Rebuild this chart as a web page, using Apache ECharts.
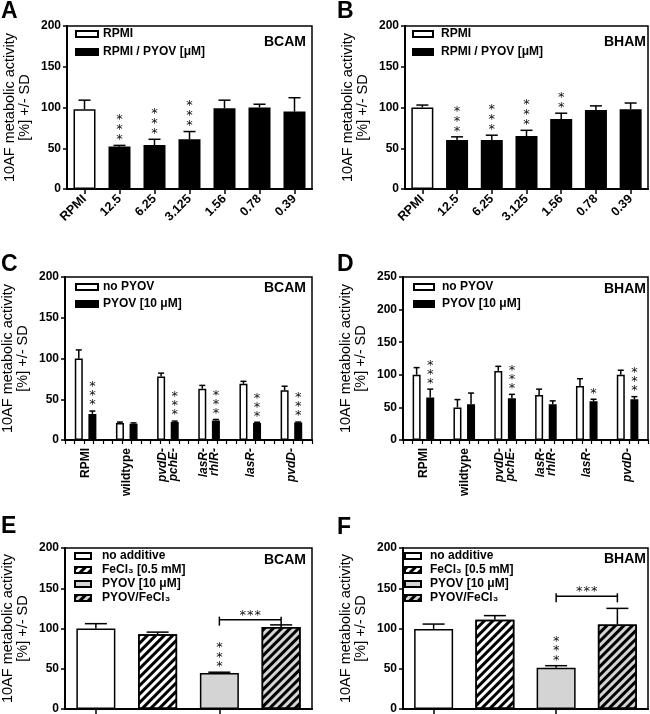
<!DOCTYPE html>
<html><head><meta charset="utf-8">
<script src="https://cdn.jsdelivr.net/npm/echarts@6/dist/echarts.min.js"></script>
<style>html,body{margin:0;padding:0;background:#fff}#c{width:650px;height:714px}</style>
</head><body><div id="c"></div>
<script>
// ---------- DATA ----------
const abCats = ['RPMI','12.5','6.25','3.125','1.56','0.78','0.39'];
const aMean = [98, 52, 54, 61, 99, 100, 95];
const aSD   = [11, 1.5, 7, 9.5, 10, 4, 17];
const aStars = [0, 3, 3, 3, 0, 0, 0];
const bMean = [100, 60, 60, 65, 86, 97, 98];
const bSD   = [3, 4, 6, 7, 7, 5, 7.5];
const bStars = [0, 3, 3, 3, 2, 0, 0];

const cdCats = ['RPMI','wildtype','pvdD-\npchE-','lasR-\nrhlR-','lasR-','pvdD-'];
const cNoMean = [100, 21, 78, 63, 69, 61];
const cNoSD   = [10.5, 1, 4, 4, 3, 5];
const cPyMean = [32, 20, 22, 24, 21, 21.5];
const cPySD   = [3.5, 1, 1.2, 1.2, 0.8, 0.5];
const cStars  = [3, 0, 3, 3, 3, 3];
const dNoMean = [100, 50, 106, 69, 83, 100];
const dNoSD   = [11, 12, 7, 9, 11, 7];
const dPyMean = [65, 55, 64, 55, 59.5, 62.5];
const dPySD   = [13, 17, 6, 5, 3, 4];
const dStars  = [3, 0, 3, 0, 1, 3];

const efCats = ['no additive','FeCl₃ [0.5 mM]','PYOV [10 μM]','PYOV/FeCl₃'];
const eMean = [100, 93, 44.7, 102];
const eSD   = [6, 2.5, 1, 2.5];
const eStars = [0, 0, 3, 0];
const eBracket = [2, 3, 111, 3];   // from cat, to cat, height, stars
const fMean = [99.5, 111, 51.3, 105];
const fSD   = [6, 5, 2.5, 20];
const fStars = [0, 0, 3, 0];
const fBracket = [2, 3, 140, 3];

const yMaxMain = 200, yMaxD = 250, yStep = 50;
const yTitle = '10AF metabolic activity\n[%] +/- SD';

// ---------- HELPERS ----------
const FF = 'Liberation Sans';
const grids = [
  {left:67,  top:26,  width:245, height:163},
  {left:405, top:26,  width:243, height:163},
  {left:65,  top:277, width:247, height:163},
  {left:403, top:277, width:245, height:163},
  {left:65,  top:548, width:247, height:161},
  {left:403, top:548, width:245, height:161}
].map(g => Object.assign({show:true, borderColor:'#000', borderWidth:1.5, containLabel:false, outerBoundsMode:'none'}, g));

function yAx(i, max){
  return {type:'value', gridIndex:i, min:0, max:max, interval:yStep,
    axisLine:{show:true, lineStyle:{color:'#000', width:2}},
    axisTick:{show:true, length:4, lineStyle:{color:'#000', width:1.5}},
    axisLabel:{color:'#000', fontSize:12, fontWeight:'bold', fontFamily:FF, margin:6},
    splitLine:{show:false},
    name:yTitle, nameLocation:'middle', nameGap:35, nameRotate:90,
    nameTextStyle:{color:'#000', fontSize:14.5, fontFamily:FF, lineHeight:15}};
}
const axLine = {show:true, onZero:false, lineStyle:{color:'#000', width:2}};
function xAB(i){
  return {type:'category', gridIndex:i, data:abCats, axisLine:axLine,
    axisTick:{show:true, alignWithLabel:true, length:5, lineStyle:{color:'#000', width:1.5}},
    axisLabel:{interval:0, rotate:45, margin:8, color:'#000', fontSize:12.5, fontWeight:'bold', fontFamily:FF}};
}
function xCD(i){
  return {type:'category', gridIndex:i, data:cdCats, axisLine:axLine,
    axisTick:{show:false},
    axisLabel:{interval:0, rotate:90, margin:8, color:'#000', fontSize:12, fontWeight:'bold', fontFamily:FF, lineHeight:11,
      formatter: v => (v === 'RPMI' || v === 'wildtype') ? v : v.split('\n').map(s => '{i|' + s + '}').join('\n'),
      rich:{i:{fontStyle:'italic', fontWeight:'bold', fontSize:12, color:'#000', fontFamily:FF, lineHeight:11}}}};
}
function xEF(i){
  return {type:'category', gridIndex:i, data:efCats, axisLine:axLine,
    axisTick:{show:true, alignWithLabel:true, length:5, lineStyle:{color:'#000', width:1.5}},
    axisLabel:{show:false}};
}
function xTicks(i){
  return {type:'value', gridIndex:i, min:0, max:26, interval:1, position:'bottom',
    axisLine:{show:false}, axisLabel:{show:false}, splitLine:{show:false},
    axisTick:{show:true, length:4, lineStyle:{color:'#000', width:1.2}}};
}

const whiteStyle = {color:'#fff', borderColor:'#000', borderWidth:1.5};
const blackStyle = {color:'#000', borderColor:'#000', borderWidth:1.5};
const greyStyle  = {color:'#d4d4d4', borderColor:'#000', borderWidth:1.5};
const hatchDecal = {symbol:'rect', symbolSize:1, color:'#000', dashArrayX:[1,0], dashArrayY:[2.2,2.6], rotation:-Math.PI/4};
const hatchStyle = {color:'#fff', borderColor:'#000', borderWidth:1.5, decal:hatchDecal};
const greyHatchStyle = {color:'#d4d4d4', borderColor:'#000', borderWidth:1.5, decal:hatchDecal};

const STAR = {fontSize:13, fontWeight:'normal', fontFamily:'DejaVu Sans', fill:'#111'};
const STAR_DY = 3;

function errSeries(xi, yi, means, sds, offset, cap){
  return {type:'custom', xAxisIndex:xi, yAxisIndex:yi, z:5, silent:true,
    data: means.map((m, i) => [i, m, m + sds[i]]),
    encode:{x:0, y:[1,2]},
    renderItem:(params, api) => {
      const p0 = api.coord([api.value(0), api.value(1)]);
      const p1 = api.coord([api.value(0), api.value(2)]);
      const x = p0[0] + offset;
      return {type:'group', children:[
        {type:'line', shape:{x1:x, y1:p0[1], x2:x, y2:p1[1]}, style:{stroke:'#000', lineWidth:1.5}},
        {type:'line', shape:{x1:x - cap/2, y1:p1[1], x2:x + cap/2, y2:p1[1]}, style:{stroke:'#000', lineWidth:1.5}}
      ]};
    }};
}
function starSeries(xi, yi, means, sds, stars, offset, gap, step){
  return {type:'custom', xAxisIndex:xi, yAxisIndex:yi, z:6, silent:true,
    data: means.map((m, i) => [i, m + sds[i], stars[i]]),
    encode:{x:0, y:1},
    renderItem:(params, api) => {
      const n = api.value(2);
      const p = api.coord([api.value(0), api.value(1)]);
      const ch = [];
      for (let k = 0; k < n; k++) {
        ch.push({type:'text', style:Object.assign({text:'*', x:p[0] + offset, y:p[1] - gap - k*step + STAR_DY,
          align:'center', verticalAlign:'middle'}, STAR)});
      }
      return {type:'group', children:ch};
    }};
}
function bracketSeries(xi, yi, br){
  return {type:'custom', xAxisIndex:xi, yAxisIndex:yi, z:6, silent:true,
    data:[br], encode:{x:[0,1], y:2},
    renderItem:(params, api) => {
      const a = api.coord([api.value(0), api.value(2)]);
      const b = api.coord([api.value(1), api.value(2)]);
      const n = api.value(3);
      const st = {stroke:'#000', lineWidth:1.5};
      const ch = [
        {type:'line', shape:{x1:a[0], y1:a[1], x2:b[0], y2:b[1]}, style:st},
        {type:'line', shape:{x1:a[0], y1:a[1]-3, x2:a[0], y2:a[1]+6}, style:st},
        {type:'line', shape:{x1:b[0], y1:b[1]-3, x2:b[0], y2:b[1]+6}, style:st}
      ];
      const mid = (a[0] + b[0]) / 2;
      for (let k = 0; k < n; k++) {
        ch.push({type:'text', style:Object.assign({text:'*', x:mid + (k - (n-1)/2) * 7.5, y:a[1] - 7.5 + STAR_DY,
          align:'center', verticalAlign:'middle'}, STAR)});
      }
      return {type:'group', children:ch};
    }};
}
function bar(name, xi, yi, data, style, width, gap){
  return {type:'bar', name:name, xAxisIndex:xi, yAxisIndex:yi, data:data, itemStyle:style,
    barWidth:width, barGap:gap, silent:true, z:2};
}
function only(arr, idx){ return arr.map((v, i) => idx.includes(i) ? v : '-'); }

// ---------- SERIES ----------
const series = [];
// A
series.push(bar('A|RPMI', 0, 0, only(aMean, [0]), whiteStyle, 22, '-100%'));
series.push(bar('A|RPMI / PYOV [μM]', 0, 0, only(aMean, [1,2,3,4,5,6]), blackStyle, 22, '-100%'));
series.push(errSeries(0, 0, aMean, aSD, 0, 12));
series.push(starSeries(0, 0, aMean, aSD, aStars, 0, 8.5, 10));
// B
series.push(bar('B|RPMI', 1, 1, only(bMean, [0]), whiteStyle, 22, '-100%'));
series.push(bar('B|RPMI / PYOV [μM]', 1, 1, only(bMean, [1,2,3,4,5,6]), blackStyle, 22, '-100%'));
series.push(errSeries(1, 1, bMean, bSD, 0, 12));
series.push(starSeries(1, 1, bMean, bSD, bStars, 0, 8.5, 10));
// C & D
const cw = 8, cgap = 0.7, coff = (cw + cw * cgap) / 2;
series.push(bar('C|no PYOV', 2, 2, cNoMean, whiteStyle, cw, '70%'));
series.push(bar('C|PYOV [10 μM]', 2, 2, cPyMean, blackStyle, cw, '70%'));
series.push(errSeries(2, 2, cNoMean, cNoSD, -coff, 6));
series.push(errSeries(2, 2, cPyMean, cPySD, coff, 6));
series.push(starSeries(2, 2, cPyMean, cPySD, cStars, coff, 9, 9));
series.push(bar('D|no PYOV', 3, 3, dNoMean, whiteStyle, cw, '70%'));
series.push(bar('D|PYOV [10 μM]', 3, 3, dPyMean, blackStyle, cw, '70%'));
series.push(errSeries(3, 3, dNoMean, dNoSD, -coff, 6));
series.push(errSeries(3, 3, dPyMean, dPySD, coff, 6));
series.push(starSeries(3, 3, dPyMean, dPySD, dStars, coff, 9, 9));
// E & F
const efStyles = [whiteStyle, hatchStyle, greyStyle, greyHatchStyle];
[['E', 4, eMean, eSD, eStars, eBracket], ['F', 5, fMean, fSD, fStars, fBracket]].forEach(([p, i, m, s, st, br]) => {
  efCats.forEach((c, k) => series.push(bar(p + '|' + c, i, i, only(m, [k]), efStyles[k], 39, '-100%')));
  series.push(errSeries(i, i, m, s, 0, 22));
  series.push(starSeries(i, i, m, s, st, 0, 8.5, 9.5));
  series.push(bracketSeries(i, i, br));
});

// ---------- LEGENDS ----------
const legText = {fontSize:12, fontWeight:'bold', color:'#000', fontFamily:FF};
function leg(left, top, names, w, gap, tpad){
  return {left:left, top:top, orient:'vertical', icon:'rect', itemWidth:w, itemHeight:6, itemGap:gap,
    padding:0, selectedMode:false, data:names, formatter: n => n.split('|')[1],
    textStyle:Object.assign({padding:[0,0,0,tpad]}, legText)};
}
const legends = [
  leg(75, 28, ['A|RPMI','A|RPMI / PYOV [μM]'], 22, 6, 0),
  leg(412, 28, ['B|RPMI','B|RPMI / PYOV [μM]'], 20, 6, 3),
  leg(75, 281, ['C|no PYOV','C|PYOV [10 μM]'], 22, 5, 0),
  leg(413, 281, ['D|no PYOV','D|PYOV [10 μM]'], 20, 5, 3),
  leg(74, 550, efCats.map(c => 'E|' + c), 16, 2, 6),
  leg(404, 550, efCats.map(c => 'F|' + c), 16, 2, 4)
];

// ---------- GRAPHIC TEXT ----------
function gtext(x, y, t, size, align){
  return {type:'text', x:x, y:y, silent:true, style:{text:t, fontSize:size, fontWeight:'bold', fontFamily:FF, fill:'#000',
    align:align, verticalAlign:'middle'}};
}
const graphic = [
  gtext(1, 12, 'A', 23, 'left'), gtext(337, 12, 'B', 23, 'left'),
  gtext(1, 265, 'C', 23, 'left'), gtext(337, 265, 'D', 23, 'left'),
  gtext(1, 527, 'E', 23, 'left'), gtext(337, 528, 'F', 23, 'left'),
  gtext(306, 42, 'BCAM', 14, 'right'), gtext(646, 42, 'BHAM', 14, 'right'),
  gtext(306, 288, 'BCAM', 14, 'right'), gtext(646, 289, 'BHAM', 14, 'right'),
  gtext(306, 560, 'BCAM', 14, 'right'), gtext(646, 559, 'BHAM', 14, 'right')
];

const chart = echarts.init(document.getElementById('c'), null, {renderer:'canvas'});
chart.setOption({
  animation:false,
  backgroundColor:'#fff',
  textStyle:{fontFamily:FF},
  grid:grids,
  xAxis:[xAB(0), xAB(1), xCD(2), xCD(3), xEF(4), xEF(5), xTicks(2), xTicks(3)],
  yAxis:[yAx(0, yMaxMain), yAx(1, yMaxMain), yAx(2, yMaxMain), yAx(3, yMaxD), yAx(4, yMaxMain), yAx(5, yMaxMain)],
  legend:legends,
  series:series,
  graphic:graphic
});
</script></body></html>
